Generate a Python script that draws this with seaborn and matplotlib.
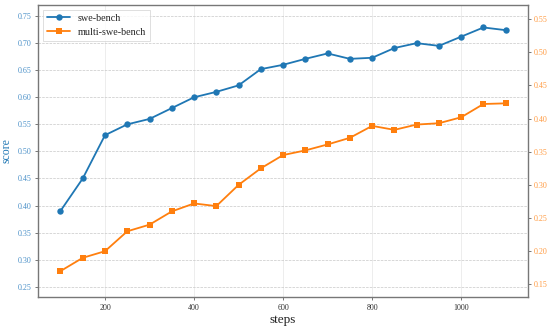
import matplotlib
matplotlib.use("Agg")
import matplotlib.pyplot as plt
import seaborn as sns
import pandas as pd

steps = [100, 150, 200, 250, 300, 350, 400, 450, 500, 550, 600,
         650, 700, 750, 800, 850, 900, 950, 1000, 1050, 1100]
swe_bench = [0.39, 0.45, 0.53, 0.55, 0.56, 0.58, 0.60, 0.61, 0.622, 0.652, 0.66,
             0.671, 0.681, 0.671, 0.673, 0.691, 0.70, 0.695, 0.712, 0.729, 0.724]
multi_swe_bench = [0.17, 0.19, 0.20, 0.23, 0.24, 0.26, 0.272, 0.268, 0.30, 0.325, 0.345,
                   0.352, 0.361, 0.371, 0.389, 0.383, 0.391, 0.393, 0.402, 0.422, 0.423]

blue = "#1f77b4"
orange = "#ff7f0e"

sns.set_theme(style="white")
plt.rcParams["font.family"] = ["Liberation Serif", "DejaVu Serif"]

df = pd.DataFrame({"steps": steps, "swe": swe_bench, "multi": multi_swe_bench})

fig = plt.figure(figsize=(5.54, 3.30), dpi=100)
ax = fig.add_axes([0.069, 0.099, 0.884, 0.887])
ax2 = ax.twinx()

sns.lineplot(data=df, x="steps", y="swe", ax=ax, color=blue, marker="o",
             markersize=4.6, markeredgewidth=0, linewidth=1.3, label="swe-bench", legend=False)
sns.lineplot(data=df, x="steps", y="multi", ax=ax2, color=orange, marker="s",
             markersize=4.4, markeredgewidth=0, linewidth=1.3, label="multi-swe-bench", legend=False)

ax.set_ylim(0.2304, 0.7712)
ax2.set_ylim(0.1304, 0.5719)
ax.set_xlim(50, 1150)
ax.set_yticks([0.25, 0.30, 0.35, 0.40, 0.45, 0.50, 0.55, 0.60, 0.65, 0.70, 0.75])
ax2.set_yticks([0.15, 0.20, 0.25, 0.30, 0.35, 0.40, 0.45, 0.50, 0.55])
ax.set_xticks([200, 400, 600, 800, 1000])

ax.set_xlabel("steps", fontsize=9.5, color="#222222", labelpad=2)
ax.set_ylabel("score", fontsize=8.5, color=blue, labelpad=4)
ax2.set_ylabel("")

ax.tick_params(axis="y", labelsize=5.8, labelcolor="#4a90c8", color="#777777",
               length=2.5, width=0.7, direction="out", left=True, pad=2)
ax2.tick_params(axis="y", labelsize=5.8, labelcolor="#ff9a40", color="#777777",
                length=2.5, width=0.7, direction="out", right=True, pad=2)
ax.tick_params(axis="x", labelsize=5.8, labelcolor="#333333", color="#777777",
               length=2.5, width=0.7, direction="out", bottom=True, pad=2)

ax.yaxis.grid(True, linestyle="--", linewidth=0.5, color="#c8c8c8")
ax.xaxis.grid(True, linestyle="-", linewidth=0.5, color="#e6e6e6")
ax.set_axisbelow(True)

for s in ax.spines.values():
    s.set_visible(False)
for s in ax2.spines.values():
    s.set_color("#777777")
    s.set_linewidth(1.0)

h1, l1 = ax.get_legend_handles_labels()
h2, l2 = ax2.get_legend_handles_labels()
leg = ax.legend(h1 + h2, l1 + l2, loc="upper left", fontsize=7.3, frameon=True,
                fancybox=False, edgecolor="#d0d0d0", borderpad=0.4,
                handlelength=2.2, labelspacing=0.5)
leg.get_frame().set_linewidth(0.6)

fig.savefig("out.png", dpi=100)
